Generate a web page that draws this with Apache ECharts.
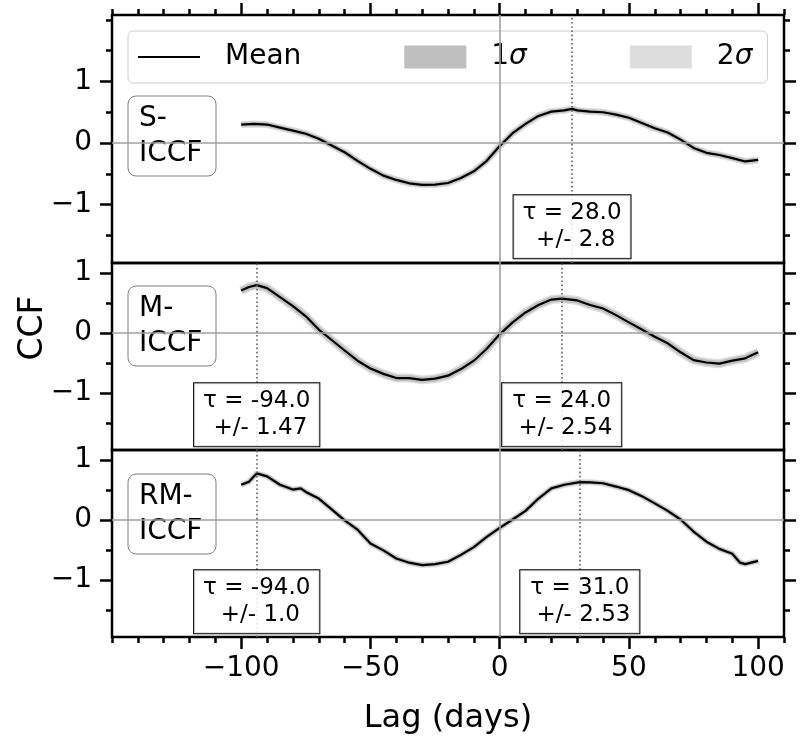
<!DOCTYPE html>
<html>
<head>
<meta charset="utf-8">
<script src="https://cdn.jsdelivr.net/npm/echarts@6/dist/echarts.min.js"></script>
<style>
html, body { margin: 0; padding: 0; background: #fff; }
#chart { width: 800px; height: 750px; }
</style>
</head>
<body>
<div id="chart"></div>
<script>
// values (lag in days, CCF)
var lagS = [-100, -95, -90, -85, -80, -75, -70, -65, -60, -55, -50, -45, -40, -35, -30, -25, -20, -15, -10, -5, 0,
            5, 10, 15, 20, 25, 28, 30, 35, 40, 45, 50, 55, 60, 65, 70, 75, 80, 85, 90, 95, 100];
var ccfS = [0.30, 0.31, 0.30, 0.25, 0.20, 0.15, 0.07, -0.04, -0.15, -0.29, -0.42, -0.53, -0.60, -0.655, -0.68, -0.675, -0.65, -0.57, -0.46, -0.29, -0.05,
            0.16, 0.31, 0.44, 0.51, 0.53, 0.555, 0.53, 0.51, 0.50, 0.46, 0.41, 0.325, 0.24, 0.17, 0.055, -0.08, -0.16, -0.195, -0.245, -0.30, -0.275];

var lagM = [-100, -97, -94, -90, -85, -80, -75, -70, -65, -60, -55, -50, -45, -40, -35, -30, -25, -20, -15, -10, -5, 0,
            5, 10, 15, 20, 24, 30, 35, 40, 45, 50, 55, 60, 65, 70, 75, 80, 85, 90, 95, 100];
var ccfM = [0.71, 0.77, 0.80, 0.75, 0.60, 0.45, 0.28, 0.06, -0.115, -0.29, -0.46, -0.59, -0.68, -0.75, -0.75, -0.78, -0.76, -0.71, -0.60, -0.46, -0.26, -0.02,
            0.18, 0.345, 0.47, 0.56, 0.575, 0.545, 0.47, 0.41, 0.30, 0.18, 0.06, -0.06, -0.17, -0.32, -0.45, -0.49, -0.51, -0.46, -0.42, -0.32];

var lagRM = [-100, -97, -94, -90, -85, -80, -77, -75, -70, -65, -60, -55, -50, -45, -40, -35, -30, -25, -20, -15, -10, -5, 0,
             5, 10, 15, 20, 25, 31, 35, 40, 45, 50, 55, 60, 65, 70, 75, 80, 85, 90, 93, 95, 100];
var ccfRM = [0.59, 0.64, 0.78, 0.73, 0.59, 0.51, 0.53, 0.47, 0.36, 0.18, -0.005, -0.16, -0.39, -0.505, -0.64, -0.71, -0.75, -0.735, -0.695, -0.58, -0.45, -0.28, -0.13,
             0.01, 0.155, 0.36, 0.53, 0.59, 0.635, 0.63, 0.615, 0.56, 0.50, 0.40, 0.28, 0.155, 0.01, -0.19, -0.36, -0.48, -0.56, -0.71, -0.735, -0.68];

// peak lags and their errors
var tauS = [28.0];
var errS = ['2.8'];
var tauM = [-94.0, 24.0];
var errM = ['1.47', '2.54'];
var tauRM = [-94.0, 31.0];
var errRM = ['1.0', '2.53'];

var panelNames = ['S-\nICCF', 'M-\nICCF', 'RM-\nICCF'];

// ticks
var xMajor = [-100, -50, 0, 50, 100];
var xMinor = [-150, -140, -130, -120, -110, -90, -80, -70, -60, -40, -30, -20, -10, 10, 20, 30, 40, 60, 70, 80, 90, 110];
var yMajor = [-1, 0, 1];
var yMinorTop = [-1.5, -0.5, 0.5, 1.5, 2];
var yMinor = [-1.5, -0.5, 0.5];

var FONT = 'DejaVu Sans';
var chart = echarts.init(document.getElementById('chart'));

function minus(v) { return String(v).replace('-', '\u2212'); }

function tickAxis(grid, pos, min, max, ticks, len, labels) {
    return {
        type: 'value', gridIndex: grid, position: pos, min: min, max: max,
        axisLine: { show: false, onZero: false },
        splitLine: { show: false },
        axisTick: { show: ticks.length > 0, customValues: ticks, length: len,
                    lineStyle: { color: '#000', width: 2.5 } },
        axisLabel: labels ? { show: true, customValues: labels, formatter: minus, color: '#000',
                              fontSize: 28, fontFamily: FONT, margin: pos === 'bottom' ? 18 : 20 }
                          : { show: false }
    };
}

var grids = [
    { left: 112, right: 16, top: 15, height: 248 },
    { left: 112, right: 16, top: 263, height: 187 },
    { left: 112, right: 16, top: 450, height: 187 }
].map(function (g) {
    g.show = true; g.borderColor = '#000'; g.borderWidth = 2.5; g.backgroundColor = 'transparent';
    return g;
});

var xAxes = [
    tickAxis(0, 'top', -150, 110, xMajor, 12),
    tickAxis(0, 'top', -150, 110, xMinor, 6),
    tickAxis(1, 'bottom', -150, 110, [], 0),
    tickAxis(2, 'bottom', -150, 110, xMajor, 12, xMajor),
    tickAxis(2, 'bottom', -150, 110, xMinor, 6)
];
xAxes[3].name = 'Lag (days)';
xAxes[3].nameLocation = 'middle';
xAxes[3].nameGap = 66;
xAxes[3].nameTextStyle = { color: '#000', fontSize: 32, fontFamily: FONT };

var yRanges = [[-1.95, 2.08], [-1.95, 1.17], [-1.95, 1.17]];
var yAxes = [];
yRanges.forEach(function (r, g) {
    var minor = g === 0 ? yMinorTop : yMinor;
    yAxes.push(tickAxis(g, 'left', r[0], r[1], yMajor, 12, yMajor));
    yAxes.push(tickAxis(g, 'left', r[0], r[1], minor, 6));
    yAxes.push(tickAxis(g, 'right', r[0], r[1], yMajor, 12));
    yAxes.push(tickAxis(g, 'right', r[0], r[1], minor, 6));
});

var xIndex = [0, 2, 3];
var halos = [[7, 4.5], [9, 6], [6, 4]];

function panelSeries(g, lags, vals, taus, errs) {
    var pts = lags.map(function (x, i) { return [x, vals[i]]; });
    var base = { type: 'line', xAxisIndex: xIndex[g], yAxisIndex: 4 * g, data: pts,
                 symbol: 'none', silent: true, animation: false };
    var lines = [
        { yAxis: 0, lineStyle: { color: '#a0a0a0', width: 1.6, type: 'solid' } },
        { xAxis: 0, lineStyle: { color: '#a0a0a0', width: 1.6, type: 'solid' } }
    ];
    taus.forEach(function (t) {
        lines.push({ xAxis: t, lineStyle: { color: '#606060', width: 1.6, type: [1.6, 2.6] } });
    });
    var s2 = Object.assign({}, base, {
        name: '2\u03c3', color: '#dddddd', z: 2,
        lineStyle: { width: halos[g][0], color: '#dddddd' },
        markLine: { silent: true, symbol: ['none', 'none'], animation: false,
                    label: { show: false }, data: lines }
    });
    var s1 = Object.assign({}, base, {
        name: '1\u03c3', color: '#bfbfbf', z: 3,
        lineStyle: { width: halos[g][1], color: '#bfbfbf' }
    });
    var sm = Object.assign({}, base, {
        name: 'Mean', color: '#000', z: 4,
        lineStyle: { width: 2.2, color: '#000' },
        markPoint: {
            silent: true, animation: false, symbol: 'rect', symbolSize: 1,
            itemStyle: { color: 'rgba(0,0,0,0)' },
            label: { show: true, position: 'inside', color: '#000', fontSize: 23, lineHeight: 27,
                     fontFamily: FONT, align: 'center', verticalAlign: 'middle',
                     backgroundColor: 'rgba(255,255,255,0.85)', borderColor: '#000', borderWidth: 1,
                     padding: [5, 9, 4, 9] },
            data: taus.map(function (t, i) {
                return { coord: [t, -1.36],
                         label: { formatter: '\u03c4 = ' + t.toFixed(1) + '\n +/- ' + errs[i] } };
            })
        }
    });
    return [s2, s1, sm];
}

var series = [].concat(
    panelSeries(0, lagS, ccfS, tauS, errS),
    panelSeries(1, lagM, ccfM, tauM, errM),
    panelSeries(2, lagRM, ccfRM, tauRM, errRM)
);

// panel name boxes (axes-fraction positions in the original)
var boxTops = [96, 286, 474];
var graphic = panelNames.map(function (txt, i) {
    return {
        type: 'group', x: 128, y: boxTops[i], z: 10,
        children: [
            { type: 'rect', shape: { x: 0, y: 0, width: 88, height: 80, r: 8 },
              style: { fill: 'rgba(255,255,255,0.85)', stroke: '#808080', lineWidth: 1 } },
            { type: 'text', x: 11, y: 40,
              style: { text: txt, fontSize: 28, fontFamily: FONT, fill: '#000',
                       verticalAlign: 'middle', lineHeight: 35 } }
        ]
    };
});
// shared y label, centred on the stack of panels
graphic.push({
    type: 'text', x: 33, y: 328, rotation: Math.PI / 2, z: 10,
    style: { text: 'CCF', fontSize: 33, fontFamily: FONT, fill: '#000', align: 'center', verticalAlign: 'middle' }
});

chart.setOption({
    animation: false,
    grid: grids,
    xAxis: xAxes,
    yAxis: yAxes,
    legend: {
        left: 128, top: 31,
        data: [
            { name: 'Mean', icon: 'path://M0,0L64,0L64,2L0,2Z' },
            { name: '1\u03c3', icon: 'rect' },
            { name: '2\u03c3', icon: 'rect' }
        ],
        itemWidth: 62, itemHeight: 23, itemGap: 103,
        padding: [12, 15, 12, 10],
        backgroundColor: 'rgba(255,255,255,0.8)', borderColor: '#cccccc', borderWidth: 1, borderRadius: 5,
        selectedMode: false,
        formatter: function (n) { return n === 'Mean' ? n : n.charAt(0) + '{s|\u03c3}'; },
        textStyle: { color: '#000', fontSize: 28, fontFamily: FONT, padding: [0, 0, 0, 20],
                     rich: { s: { fontStyle: 'italic', fontSize: 28, fontFamily: FONT, color: '#000' } } }
    },
    series: series,
    graphic: graphic
});
</script>
</body>
</html>
